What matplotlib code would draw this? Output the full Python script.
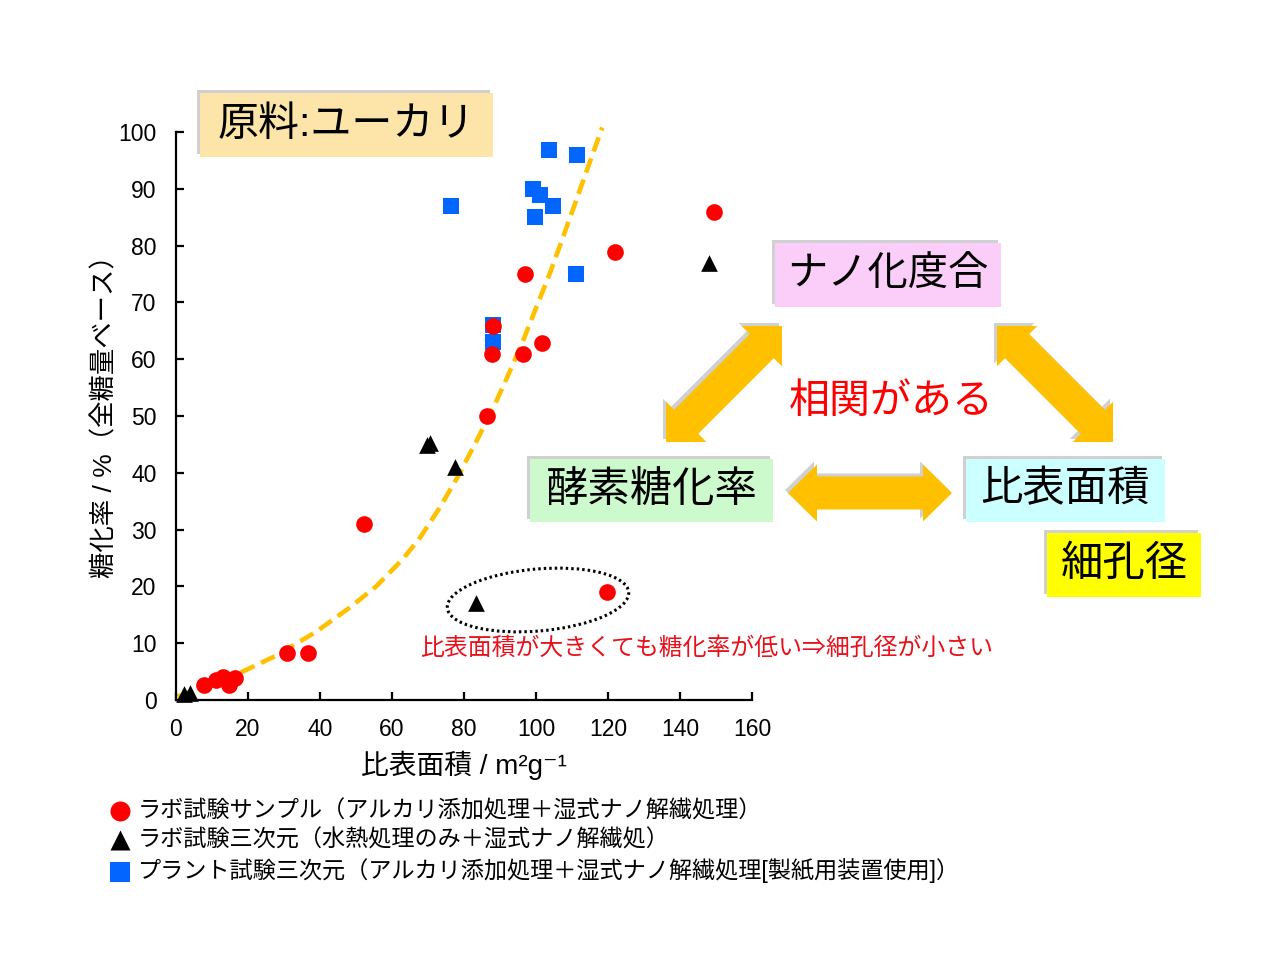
import numpy as np
import matplotlib
matplotlib.use('Agg')
import matplotlib.pyplot as plt
from matplotlib.patches import Rectangle, Polygon, Ellipse

plt.rcParams['font.family'] = ['Liberation Sans', 'Noto Sans CJK JP', 'DejaVu Sans']

# ---- data ----
# lab samples (alkali + wet nano fibrillation)
lab_x = [7.9, 11.1, 13.0, 14.6, 16.5, 30.7, 36.6, 52.1, 86.5, 88.0, 87.8, 96.9, 96.5, 101.8, 121.9, 149.5, 119.7]
lab_y = [2.6, 3.5, 4.1, 2.6, 3.8, 8.3, 8.3, 31.0, 50.0, 65.8, 60.9, 75.0, 60.9, 62.9, 78.9, 86.0, 19.0]
# lab 3D (hydrothermal only)
hyd_x = [2.2, 4.0, 69.6, 70.6, 77.5, 83.3, 148.1]
hyd_y = [1.0, 1.2, 44.9, 45.2, 41.1, 17.1, 77.0]
# plant 3D
plant_x = [103.7, 111.5, 99.1, 101.1, 104.8, 99.8, 76.4, 111.1, 88.1, 88.0]
plant_y = [96.9, 96.0, 89.9, 88.9, 87.0, 85.0, 87.0, 75.0, 66.0, 63.1]
# dashed trend curve
trend_x = [0.5, 9.0, 18.5, 27.8, 38.9, 48.1, 55.6, 63.0, 67.8, 73.0, 78.0, 83.0,
           88.1, 92.0, 96.5, 100.0, 103.9, 107.0, 110.4, 114.1, 118.4]
trend_y = [0.6, 2.6, 5.0, 7.8, 12.0, 16.2, 20.0, 24.8, 28.6, 33.6, 39.0, 45.0,
           51.4, 56.8, 63.4, 69.0, 75.2, 80.6, 86.6, 93.2, 100.8]

legend_labels = [
    'ラボ試験サンプル（アルカリ添加処理＋湿式ナノ解繊処理）',
    'ラボ試験三次元（水熱処理のみ＋湿式ナノ解繊処）',
    'プラント試験三次元（アルカリ添加処理＋湿式ナノ解繊処理[製紙用装置使用]）',
]
x_ticks = list(range(0, 161, 20))
y_ticks = list(range(0, 101, 10))

W, H = 1280, 960
fig = plt.figure(figsize=(W / 100, H / 100), dpi=100)
ax = fig.add_axes([176 / W, (H - 700) / H, 576 / W, 568 / H])


def px(x, y):
    # pixel coords (top-left origin) -> inches for dpi_scale_trans
    return (x / 100, (H - y) / 100)


gold = '#FFC000'
ax.plot(trend_x, trend_y, color=gold, lw=3.3, linestyle=(0, (3.3, 1.6)),
        dash_capstyle='butt', zorder=1, clip_on=False)
sc_plant = ax.scatter(plant_x, plant_y, marker='s', s=144, color='#0066FF', linewidths=0, zorder=2, clip_on=False)
sc_hyd = ax.scatter(hyd_x, hyd_y, marker='^', s=144, color='black', linewidths=0, zorder=3, clip_on=False)
sc_lab = ax.scatter(lab_x, lab_y, marker='o', s=144, color='#FF0000', linewidths=0, zorder=4, clip_on=False)

ax.set_xlim(0, 160)
ax.set_ylim(0, 100)
ax.set_xticks(x_ticks)
ax.set_yticks(y_ticks)
for side in ['top', 'right']:
    ax.spines[side].set_visible(False)
for side in ['left', 'bottom']:
    ax.spines[side].set_linewidth(1.6)
ax.tick_params(direction='in', length=6, width=1.6, labelsize=16.5)
ax.tick_params(axis='y', pad=14)
ax.tick_params(axis='x', pad=13)

ax.set_xlabel('比表面積 / m²g⁻¹', fontsize=20)
ax.xaxis.set_label_coords(0.5, -0.09)
ax.set_ylabel('糖化率 / %（全糖量ベース）', fontsize=19)
ax.yaxis.set_label_coords(-0.102, 0.51)

# dotted ellipse around the outliers
ax_t = fig.dpi_scale_trans
fig.patches.append(Ellipse(px(538, 600), 1.82, 0.62, angle=5, fill=False, ec='black',
                           lw=2.2, linestyle=(0, (0.8, 1.0)), transform=ax_t))
fig.text(*px(707, 648), '比表面積が大きくても糖化率が低い⇒細孔径が小さい', transform=ax_t,
         color='#E8101A', fontsize=17.2, style='italic', ha='center', va='center',
         family=['Noto Sans CJK JP', 'DejaVu Sans'])

# boxes
boxes = [
    ('原料:ユーカリ', 200, 93, 493, 157, '#FDE4A8', 29.5),
    ('ナノ化度合', 775, 243, 1001, 307, '#FBCDF9', 29),
    ('酵素糖化率', 530, 459, 773, 522, '#CDFACD', 30.5),
    ('比表面積', 966, 459, 1165, 522, '#CCFFFF', 30.5),
    ('細孔径', 1047, 533, 1201, 597, '#FFFF00', 30.5),
]
for txt, x0, y0, x1, y1, fc, fs in boxes:
    fig.patches.append(Rectangle(px(x0 - 3, y1 - 3), (x1 - x0) / 100, (y1 - y0) / 100,
                                 fc='#BDBDBD', ec='none', alpha=0.7, transform=ax_t))
    fig.patches.append(Rectangle(px(x0, y1), (x1 - x0) / 100, (y1 - y0) / 100,
                                 fc=fc, ec='none', transform=ax_t))
    fig.text(*px((x0 + x1) / 2, (y0 + y1) / 2), txt, transform=ax_t, fontsize=fs,
             ha='center', va='center', color='black')


def double_arrow(x0, y0, x1, y1, shaft, head_w, head_l, dx=0.0, dy=0.0):
    p0 = np.array(px(x0, y0)) + [dx, dy]
    p1 = np.array(px(x1, y1)) + [dx, dy]
    d = p1 - p0
    u = d / np.hypot(*d)
    n = np.array([-u[1], u[0]])
    s, hw, hl = shaft / 200, head_w / 200, head_l / 100
    return [p0, p0 + u * hl + n * hw, p0 + u * hl + n * s, p1 - u * hl + n * s,
            p1 - u * hl + n * hw, p1, p1 - u * hl - n * hw, p1 - u * hl - n * s,
            p0 + u * hl - n * s, p0 + u * hl - n * hw]


arrows = [
    (666, 442, 782, 326, 34, 57, 28.5),
    (997, 326, 1113, 442, 34, 57, 28.5),
    (788, 493, 952, 493, 33, 57, 29),
]
for a in arrows:
    fig.patches.append(Polygon(double_arrow(*a, dx=-0.03, dy=0.03), closed=True,
                               fc='#BDBDBD', ec='none', alpha=0.7, transform=ax_t))
    fig.patches.append(Polygon(double_arrow(*a), closed=True, fc=gold, ec='none', transform=ax_t))

fig.text(*px(891, 402), '相関がある', transform=ax_t, fontsize=29.5, color='#FF0000',
         ha='center', va='center')

fig.legend([sc_lab, sc_hyd, sc_plant], legend_labels, loc='upper left',
           bbox_to_anchor=(111 / W, (H - 799) / H), frameon=False, fontsize=16.7,
           handlelength=0.8, handletextpad=0.35, labelspacing=0.28, borderpad=0,
           borderaxespad=0, markerscale=1.2, scatterpoints=1)

fig.savefig('out.png', dpi=100, facecolor='white')
